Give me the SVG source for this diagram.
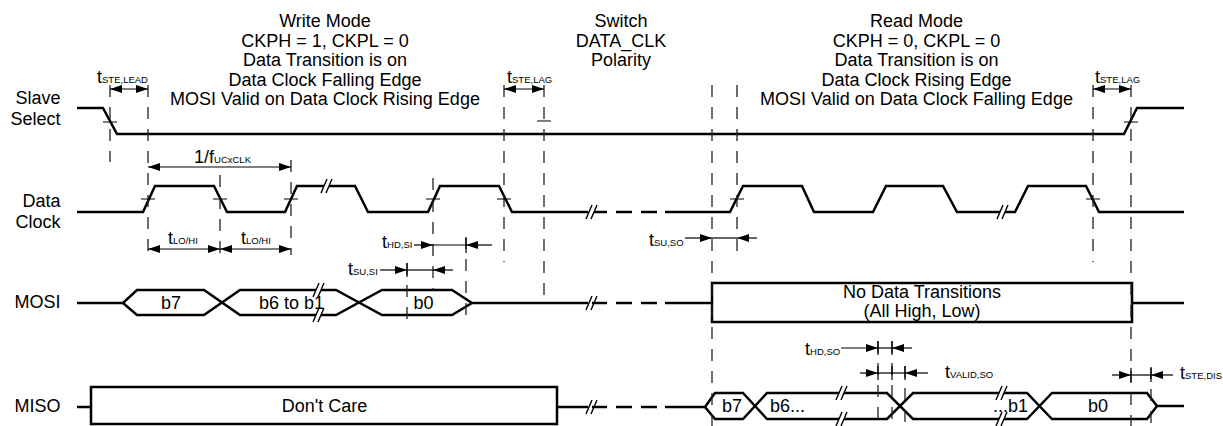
<svg xmlns="http://www.w3.org/2000/svg" xmlns:xlink="http://www.w3.org/1999/xlink" width="1223" height="426" viewBox="0 0 1223 426">
<style>
.t{font-family:"Liberation Sans",Arial,sans-serif;font-size:18px;fill:#000}
.s{font-size:9.5px}
.sig{stroke:#000;stroke-width:2.5;fill:none;stroke-linejoin:miter}
.hd{stroke:#000;stroke-width:2.5;fill:none;stroke-dasharray:16 9}
.dl{stroke:#222;stroke-width:1.3;fill:none;stroke-dasharray:12 10}
.tk{stroke:#000;stroke-width:1.2;fill:none}
.dim{stroke:#000;stroke-width:1.2;fill:none}
</style>
<defs>
<marker id="ah" viewBox="0 0 12 8" refX="12" refY="4" markerWidth="12" markerHeight="8" markerUnits="userSpaceOnUse" orient="auto-start-reverse"><path d="M0,0 L12,4 L0,8 Z" fill="#000"/></marker>
<g id="brk"><path d="M-5,7 L1,-7 L6,-7 L0,7 Z" fill="#fff"/><path d="M-5,7 L1,-7 M0,7 L6,-7" fill="none" stroke="#000" stroke-width="1.4"/></g>
</defs>
<rect width="1223" height="426" fill="#fff"/>

<g id="titles" class="t" text-anchor="middle">
<text x="325" y="27">Write Mode</text>
<text x="325" y="46.5">CKPH = 1, CKPL = 0</text>
<text x="325" y="66">Data Transition is on</text>
<text x="325" y="85.5">Data Clock Falling Edge</text>
<text x="325" y="105">MOSI Valid on Data Clock Rising Edge</text>
<text x="621" y="27">Switch</text>
<text x="621" y="46.5">DATA_CLK</text>
<text x="621" y="66">Polarity</text>
<text x="916.5" y="27">Read Mode</text>
<text x="916.5" y="46.5">CKPH = 0, CKPL = 0</text>
<text x="916.5" y="66">Data Transition is on</text>
<text x="916.5" y="85.5">Data Clock Rising Edge</text>
<text x="916.5" y="105">MOSI Valid on Data Clock Falling Edge</text>
</g>

<g id="labels" class="t" text-anchor="end">
<text x="60.5" y="103.5">Slave</text>
<text x="60.5" y="124.5">Select</text>
<text x="60.5" y="207">Data</text>
<text x="60.5" y="228">Clock</text>
<text x="60.5" y="307.5">MOSI</text>
<text x="60.5" y="411.5">MISO</text>
</g>

<g id="slave-select">
<path class="sig" d="M77,108 H103 L117,134 H1124 L1137,108 H1184"/>
</g>

<g id="data-clock">
<path class="sig" d="M77,212 H143 L155,186 H214 L227,212 H285 L297,186 H355 L368,212 H428 L440,186 H499 L512,212 H588"/>
<line class="hd" x1="657" y1="212" x2="592" y2="212"/>
<path class="sig" d="M665,212 H730 L743,186 H802 L814,212 H873 L886,186 H943 L957,212 H1015 L1028,186 H1086 L1099,212 H1184"/>
<use xlink:href="#brk" x="326" y="186"/>
<use xlink:href="#brk" x="591" y="212"/>
<use xlink:href="#brk" x="1002" y="212"/>
</g>

<g id="mosi">
<path class="sig" d="M77,303 H123 L137,290 H204 L240,315 H336 L382,290 H452 L472,303 H588"/>
<path class="sig" d="M123,303 L137,315 H204 L240,290 H336 L382,315 H452 L472,303"/>
<use xlink:href="#brk" x="318" y="290"/>
<use xlink:href="#brk" x="318" y="315"/>
<use xlink:href="#brk" x="591" y="303"/>
<line class="hd" x1="657" y1="303" x2="592" y2="303"/>
<path class="sig" d="M665,303 H712"/>
<rect class="sig" x="712" y="283" width="420" height="39"/>
<path class="sig" d="M1132,303 H1184"/>
<text class="t" x="171" y="309" text-anchor="middle">b7</text>
<text class="t" x="259" y="309">b6 to b1</text>
<text class="t" x="423.5" y="309" text-anchor="middle">b0</text>
<text class="t" x="922" y="298" text-anchor="middle">No Data Transitions</text>
<text class="t" x="922" y="316.5" text-anchor="middle">(All High, Low)</text>
</g>

<g id="miso">
<path class="sig" d="M77,407 H91"/>
<rect class="sig" x="91" y="387" width="466" height="37"/>
<path class="sig" d="M557,407 H588"/>
<use xlink:href="#brk" x="591" y="407"/>
<line class="hd" x1="657" y1="407" x2="592" y2="407"/>
<path class="sig" d="M665,407 H705 L715,393 H743 L767,419 H887 L913,393 H1027 L1052,419 H1147 L1157,406 H1184"/>
<path class="sig" d="M705,407 L715,419 H743 L767,393 H887 L913,419 H1027 L1052,393 H1147 L1157,406"/>
<use xlink:href="#brk" x="841" y="393"/>
<use xlink:href="#brk" x="841" y="419"/>
<use xlink:href="#brk" x="1001" y="393"/>
<use xlink:href="#brk" x="1001" y="419"/>
<text class="t" x="324.5" y="411.5" text-anchor="middle">Don't Care</text>
<text class="t" x="732" y="411.5" text-anchor="middle">b7</text>
<text class="t" x="770" y="411.5">b6...</text>
<text class="t" x="1028" y="411.5" text-anchor="end">...b1</text>
<text class="t" x="1098" y="411.5" text-anchor="middle">b0</text>
</g>

<g id="connectors">
<g id="dashed-guides">
<line class="dl" x1="110" y1="85" x2="110" y2="162"/>
<line class="dl" x1="148" y1="85" x2="148" y2="255"/>
<line class="dl" x1="220" y1="175" x2="220" y2="255"/>
<line class="dl" x1="291" y1="160" x2="291" y2="255"/>
<line class="dl" x1="433" y1="178" x2="433" y2="290"/>
<line class="dl" x1="407" y1="263" x2="407" y2="322"/>
<line class="dl" x1="466" y1="237" x2="466" y2="322"/>
<line class="dl" x1="504" y1="85" x2="504" y2="262"/>
<line class="dl" x1="544" y1="85" x2="544" y2="302"/>
<line class="dl" x1="712" y1="85" x2="712" y2="426"/>
<line class="dl" x1="737" y1="85" x2="737" y2="253"/>
<line class="dl" x1="878" y1="341" x2="878" y2="426"/>
<line class="dl" x1="892" y1="341" x2="892" y2="426"/>
<line class="dl" x1="905" y1="366" x2="905" y2="426"/>
<line class="dl" x1="1093" y1="85" x2="1093" y2="262"/>
<line class="dl" x1="1131" y1="85" x2="1131" y2="426"/>
<line class="dl" x1="1151" y1="367" x2="1151" y2="426"/>
</g>
<g id="edge-ticks" class="tk">
<path d="M103,122 H117 M537,121 H551 M1124,122 H1138"/>
<path d="M141,199 H155 M213,199 H227 M284,199 H298 M426,199 H440 M497,199 H511 M730,199 H744 M1086,199 H1100"/>
<path d="M466,238 V253 M407,263 V277 M878,341 V355 M892,341 V355 M878,366 V380 M892,366 V380 M905,366 V380 M1131,368 V382 M1151,368 V382"/>
</g>
<g id="dimensions" class="dim">
<line x1="110" y1="89" x2="148" y2="89" marker-start="url(#ah)" marker-end="url(#ah)"/>
<line x1="504" y1="89" x2="544" y2="89" marker-start="url(#ah)" marker-end="url(#ah)"/>
<line x1="1093" y1="89" x2="1131" y2="89" marker-start="url(#ah)" marker-end="url(#ah)"/>
<line x1="148" y1="167" x2="291" y2="167" marker-start="url(#ah)" marker-end="url(#ah)"/>
<line x1="148" y1="249" x2="220" y2="249" marker-start="url(#ah)" marker-end="url(#ah)"/>
<line x1="220" y1="249" x2="291" y2="249" marker-start="url(#ah)" marker-end="url(#ah)"/>
<line x1="414" y1="245" x2="433" y2="245" marker-end="url(#ah)"/>
<line x1="433" y1="245" x2="466" y2="245"/>
<line x1="492" y1="245" x2="466" y2="245" marker-end="url(#ah)"/>
<line x1="380" y1="270" x2="407" y2="270" marker-end="url(#ah)"/>
<line x1="407" y1="270" x2="433" y2="270"/>
<line x1="453" y1="270" x2="433" y2="270" marker-end="url(#ah)"/>
<line x1="685" y1="238" x2="712" y2="238" marker-end="url(#ah)"/>
<line x1="712" y1="238" x2="737" y2="238"/>
<line x1="757" y1="238" x2="737" y2="238" marker-end="url(#ah)"/>
<line x1="841" y1="348" x2="878" y2="348" marker-end="url(#ah)"/>
<line x1="878" y1="348" x2="892" y2="348"/>
<line x1="912" y1="348" x2="892" y2="348" marker-end="url(#ah)"/>
<line x1="860" y1="373" x2="878" y2="373" marker-end="url(#ah)"/>
<line x1="878" y1="373" x2="905" y2="373"/>
<line x1="928" y1="373" x2="905" y2="373" marker-end="url(#ah)"/>
<line x1="1112" y1="375" x2="1131" y2="375" marker-end="url(#ah)"/>
<line x1="1131" y1="375" x2="1151" y2="375"/>
<line x1="1173" y1="375" x2="1151" y2="375" marker-end="url(#ah)"/>
</g>
</g>

<g id="timing-labels" class="t">
<text x="97" y="83">t<tspan class="s">STE,LEAD</tspan></text>
<text x="507" y="83">t<tspan class="s">STE,LAG</tspan></text>
<text x="1095" y="83">t<tspan class="s">STE,LAG</tspan></text>
<text x="194" y="163">1/f<tspan class="s">UCxCLK</tspan></text>
<text x="168" y="244">t<tspan class="s">LO/HI</tspan></text>
<text x="241" y="244">t<tspan class="s">LO/HI</tspan></text>
<text x="382" y="248">t<tspan class="s">HD,SI</tspan></text>
<text x="348" y="275">t<tspan class="s">SU,SI</tspan></text>
<text x="649" y="246">t<tspan class="s">SU,SO</tspan></text>
<text x="805" y="355">t<tspan class="s">HD,SO</tspan></text>
<text x="945" y="378">t<tspan class="s">VALID,SO</tspan></text>
<text x="1180" y="379">t<tspan class="s">STE,DIS</tspan></text>
</g>
</svg>
